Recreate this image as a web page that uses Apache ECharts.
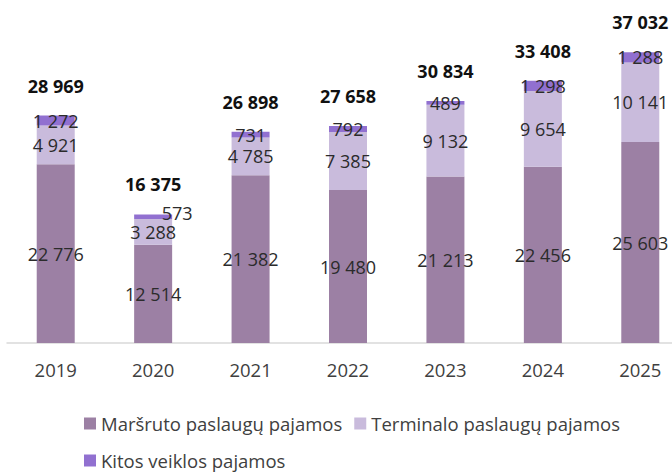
<!DOCTYPE html>
<html>
<head>
<meta charset="utf-8">
<script src="https://cdn.jsdelivr.net/npm/echarts@6/dist/echarts.min.js"></script>
<style>
  html, body { margin: 0; padding: 0; background: #fff; }
  #chart { width: 672px; height: 473px; }
</style>
</head>
<body>
<div id="chart"></div>
<script>
var years = ['2019', '2020', '2021', '2022', '2023', '2024', '2025'];
var marsruto = [22776, 12514, 21382, 19480, 21213, 22456, 25603];
var terminalo = [4921, 3288, 4785, 7385, 9132, 9654, 10141];
var kitos = [1272, 573, 731, 792, 489, 1298, 1288];
var totals = [28969, 16375, 26898, 27658, 30834, 33408, 37032];

var names = ['Maršruto paslaugų pajamos', 'Terminalo paslaugų pajamos', 'Kitos veiklos pajamos'];
var colors = ['#9c80a4', '#c9bbdc', '#9170d0'];
var font = 'Open Sans';

function fmt(v) {
  return String(v).replace(/\B(?=(\d{3})+(?!\d))/g, ' ');
}

var segLabel = {
  show: true,
  position: 'inside',
  color: '#2b2b2b',
  fontFamily: font,
  fontSize: 18,
  formatter: function(p) { return fmt(p.value); }
};

// the small 2020 "Kitos" label sits beside its segment
var kitosData = kitos.map(function(v, i) {
  if (i === 1) return { value: v, label: { offset: [24, -4] } };
  return v;
});

var chart = echarts.init(document.getElementById('chart'), null, { renderer: 'svg' });
chart.setOption({
  animation: false,
  textStyle: { fontFamily: font },
  // plot area runs past the right edge, as in the original
  grid: { left: 7, width: 682, top: 29, bottom: 130, outerBoundsMode: 'none', containLabel: false },
  legend: [
    {
      left: 84, top: 414, padding: 0,
      data: [names[0], names[1]],
      icon: 'rect', itemWidth: 12, itemHeight: 12, itemGap: 12,
      textStyle: { fontFamily: font, fontSize: 18.5, color: '#404040' }
    },
    {
      left: 84, top: 451, padding: 0,
      data: [names[2]],
      icon: 'rect', itemWidth: 12, itemHeight: 12,
      textStyle: { fontFamily: font, fontSize: 18.5, color: '#404040' }
    }
  ],
  xAxis: {
    type: 'category',
    data: years,
    axisLine: { lineStyle: { color: '#d9d9d9', width: 1.5 } },
    axisTick: { show: false },
    axisLabel: { color: '#404040', fontFamily: font, fontSize: 18.5, margin: 17 }
  },
  yAxis: {
    type: 'value',
    min: 0,
    max: 40000,
    show: false,
    splitLine: { show: false }
  },
  series: [
    {
      name: names[0], type: 'bar', stack: 'total', barWidth: '39%',
      data: marsruto, itemStyle: { color: colors[0] }, label: segLabel, silent: true
    },
    {
      name: names[1], type: 'bar', stack: 'total',
      data: terminalo, itemStyle: { color: colors[1] }, label: segLabel, silent: true
    },
    {
      name: names[2], type: 'bar', stack: 'total',
      data: kitosData, itemStyle: { color: colors[2] }, label: segLabel, silent: true
    },
    {
      name: 'totals', type: 'line',
      data: totals,
      symbol: 'circle', symbolSize: 0,
      lineStyle: { width: 0, opacity: 0 },
      itemStyle: { color: 'rgba(0,0,0,0)' },
      silent: true,
      label: {
        show: true,
        position: 'top',
        distance: 21,
        color: '#111',
        fontFamily: font,
        fontSize: 18,
        fontWeight: 'bold',
        formatter: function(p) { return fmt(p.value); }
      }
    }
  ]
});
</script>
</body>
</html>
